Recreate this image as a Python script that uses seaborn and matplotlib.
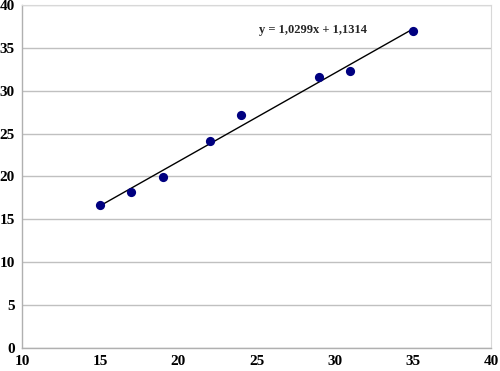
import numpy as np
import pandas as pd
import matplotlib
matplotlib.use("Agg")
import matplotlib.pyplot as plt
import seaborn as sns

# values
x_vals = [15, 17, 19, 22, 24, 29, 31, 35]
y_vals = [16.7, 18.2, 19.9, 24.1, 27.1, 31.6, 32.3, 36.9]
equation = "y = 1,0299x + 1,1314"
x_ticks = [10, 15, 20, 25, 30, 35, 40]
y_ticks = [0, 5, 10, 15, 20, 25, 30, 35, 40]

sns.set_style("white")
plt.rcParams["font.family"] = ["Liberation Serif", "DejaVu Serif"]
plt.rcParams["font.weight"] = "bold"

df = pd.DataFrame({"x": x_vals, "y": y_vals})

fig = plt.figure(figsize=(5, 3.71), dpi=100)
ax = fig.add_axes([0.044, 0.062, 0.938, 0.925])

sns.regplot(data=df, x="x", y="y", ci=None, ax=ax,
            scatter_kws={"s": 44, "color": "#000080", "alpha": 1.0,
                         "zorder": 3, "linewidths": 0},
            line_kws={"color": "black", "lw": 1.0, "zorder": 2})

ax.set_xlim(10, 40)
ax.set_ylim(0, 40)
ax.set_xticks(x_ticks)
ax.set_yticks(y_ticks)
ax.yaxis.grid(True, color="#c0c0c0", lw=1.0)
ax.xaxis.grid(False)
ax.set_axisbelow(True)
ax.set_xlabel("")
ax.set_ylabel("")

for side in ["left", "bottom"]:
    ax.spines[side].set_color("#b0b0b0")
    ax.spines[side].set_linewidth(1.0)
ax.spines["right"].set_color("#d8d8d8")
ax.spines["top"].set_color("#d8d8d8")

ax.tick_params(axis="both", labelsize=11, colors="black", length=3,
               direction="in", color="#b0b0b0", pad=5)
for lbl in ax.get_xticklabels() + ax.get_yticklabels():
    lbl.set_fontweight("bold")

ax.text(28.6, 37.1, equation, fontsize=9, fontweight="bold",
        ha="center", va="center")

fig.savefig("out.png", dpi=100)
